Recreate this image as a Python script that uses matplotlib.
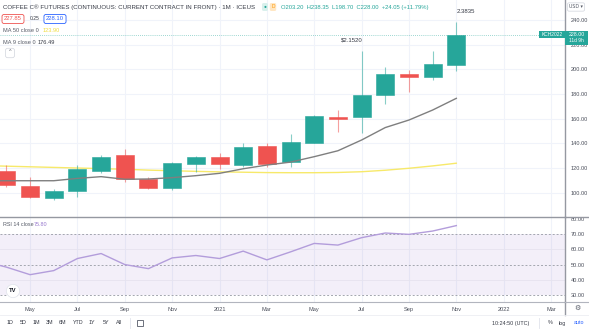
import matplotlib.pyplot as plt
from matplotlib.patches import Rectangle
from matplotlib.lines import Line2D

plt.rcParams['font.family'] = ['Liberation Sans', 'DejaVu Sans']

# monthly candles, Apr 2020 .. Nov 2021 (index 0 = Apr 2020)
opens = [117.6, 105.4, 95.5, 101.4, 117.8, 130.6, 110.9, 103.8, 123.3, 128.7,
         122.4, 137.8, 124.6, 140.5, 161.6, 161.1, 179.2, 196.0, 193.5, 203.2]
highs = [122.4, 113.0, 103.0, 122.4, 130.3, 135.7, 113.0, 125.1, 129.7, 131.9,
         140.5, 140.0, 147.6, 163.0, 167.0, 215.2, 201.6, 199.4, 214.5, 238.35]
lows = [104.4, 96.0, 94.0, 96.3, 115.7, 108.7, 103.0, 102.2, 117.0, 119.0,
        120.6, 120.6, 121.0, 140.0, 149.4, 148.1, 171.9, 181.8, 191.3, 198.7]
closes = [106.2, 96.3, 101.1, 119.0, 129.2, 110.9, 104.1, 123.8, 128.7, 123.0,
          137.3, 123.0, 141.3, 162.2, 159.5, 179.2, 196.0, 193.8, 204.0, 228.0]

# indicators, Mar 2020 .. Nov 2021 (index -1 .. 19)
ma9 = [109.7, 109.7, 109.7, 109.7, 111.6, 113.0, 110.9, 111.1, 112.2, 113.8, 115.7,
       119.4, 122.4, 124.8, 129.2, 134.0, 142.7, 152.8, 158.9, 167.0, 176.49]
ma50 = [122.0, 121.5, 121.0, 120.5, 120.0, 119.5, 119.0, 118.3, 117.8, 117.3, 116.9,
        116.6, 116.3, 116.2, 116.2, 116.4, 117.0, 118.2, 119.8, 121.7, 123.9]
rsi = [52.3, 48.3, 43.3, 46.0, 54.0, 57.3, 50.0, 47.3, 54.4, 56.0, 54.0,
       58.9, 53.1, 58.4, 64.0, 62.9, 67.8, 70.9, 70.0, 72.2, 75.8]

month_ticks = [1, 3, 5, 7, 9, 11, 13, 15, 17, 19, 21, 23]
month_labels = ['May', 'Jul', 'Sep', 'Nov', '2021', 'Mar', 'May', 'Jul', 'Sep', 'Nov', '2022', 'Mar']
price_ticks = [100, 120, 140, 160, 180, 200, 220, 240]
rsi_ticks = [30, 40, 50, 60, 70, 80]

UP = '#26a69a'
DOWN = '#ef5350'
GRID = '#f0f3fa'
AXC = '#9598a1'
TXT = '#4a4e5a'

W, H = 589, 331


def fx(px):
    return px / W


def fy(py):
    return 1 - py / H


fig = plt.figure(figsize=(W / 100, H / 100), dpi=100)
ax = fig.add_axes([0, fy(217), fx(565), 1 - fy(217)])
ax2 = fig.add_axes([0, fy(302), fx(565), fy(217) - fy(302)], sharex=ax)

n = len(opens)
xs = list(range(n))
xi = list(range(-1, n))

# grid
for a in (ax, ax2):
    for t in month_ticks:
        a.axvline(t, color=GRID, lw=0.8, zorder=0)
for p in price_ticks:
    ax.axhline(p, color=GRID, lw=0.8, zorder=0)

# candles
for i in xs:
    c = UP if closes[i] >= opens[i] else DOWN
    ax.vlines(i, lows[i], highs[i], color=c, lw=0.8, alpha=0.55, zorder=2)
    b = min(opens[i], closes[i])
    h = max(abs(closes[i] - opens[i]), 0.8)
    ax.bar(i, h, bottom=b, width=0.76, color=c, edgecolor=c, lw=0.4, zorder=3)

ax.plot(xi, ma50, color='#f7e96a', lw=1.0, zorder=1)
ax.plot(xi, ma9, color='#7f7f7f', lw=1.0, zorder=4)
ax.axhline(228, color=UP, lw=0.6, ls=(0, (1, 1.5)), alpha=0.6, zorder=1)

ax.annotate('$2.1520', (15, 215.2), xytext=(1, 6), textcoords='offset points',
            ha='right', va='bottom', fontsize=4.3, color='#363a45')
ax.annotate('2.3835', (19, 238.35), xytext=(0, 6), textcoords='offset points',
            ha='left', va='bottom', fontsize=4.3, color='#363a45')

ax.set_xlim(-0.27, 23.59)
ax.set_ylim(80.3, 256.2)
ax.yaxis.tick_right()
ax.set_yticks(price_ticks)
ax.set_yticklabels(['%.2f' % p for p in price_ticks])
ax.tick_params(axis='y', length=0, pad=4, labelsize=4.1, labelcolor=TXT)
ax.tick_params(axis='x', length=0, labelbottom=False)

# RSI pane
ax2.axhspan(30, 70, color='#7e57c2', alpha=0.09, lw=0, zorder=0)
for lv in (40, 60):
    ax2.axhline(lv, color='#e6e3ef', lw=0.6, zorder=0)
for lv in (30, 50, 70):
    ax2.axhline(lv, color='#a3a6af', lw=0.7, ls=(0, (2, 2)), zorder=1)
ax2.plot(xi, rsi, color='#b39ddb', lw=1.0, zorder=3)
ax2.set_ylim(25.2, 81.5)
ax2.yaxis.tick_right()
ax2.set_yticks(rsi_ticks)
ax2.set_yticklabels(['%.2f' % r for r in rsi_ticks])
ax2.tick_params(axis='y', length=0, pad=4, labelsize=4.1, labelcolor=TXT)
ax2.set_xticks(month_ticks)
ax2.set_xticklabels(month_labels)
ax2.tick_params(axis='x', length=0, pad=3.5, labelsize=4.1, labelcolor=TXT)

for a in (ax, ax2):
    for s in ('left', 'top', 'bottom'):
        a.spines[s].set_visible(False)
    a.spines['right'].set_color(AXC)
    a.spines['right'].set_linewidth(1.0)
ax2.spines['top'].set_visible(True)
ax2.spines['top'].set_color(AXC)
ax2.spines['top'].set_linewidth(1.0)
ax2.spines['bottom'].set_visible(True)
ax2.spines['bottom'].set_color('#b2b5be')
ax2.spines['bottom'].set_linewidth(0.8)

# frame lines outside axes
fig.add_artist(Line2D([fx(565), fx(565)], [fy(302), fy(315)], color=AXC, lw=1.0))
fig.add_artist(Line2D([fx(565), 1], [fy(302), fy(302)], color='#b2b5be', lw=0.8))
fig.add_artist(Line2D([fx(565), 1], [fy(217), fy(217)], color=AXC, lw=1.0))
fig.add_artist(Line2D([0, 1], [fy(315), fy(315)], color='#eceef2', lw=0.6))

# header legend
fig.text(fx(3), fy(7), 'COFFEE C® FUTURES (CONTINUOUS: CURRENT CONTRACT IN FRONT) · 1M · ICEUS',
         fontsize=4.4, color='#363a45', ha='left', va='center')
fig.text(fx(265), fy(7), '●', fontsize=3.5, color=UP, ha='center', va='center',
         bbox=dict(boxstyle='round,pad=0.3', fc='#d8f0ec', ec='none'))
fig.text(fx(273), fy(7), 'D', fontsize=3.5, color='#ff9800', ha='center', va='center',
         bbox=dict(boxstyle='round,pad=0.3', fc='#ffe6c2', ec='none'))
fig.text(fx(281), fy(7), 'O203.20  H238.35  L198.70  C228.00  +24.05 (+11.79%)',
         fontsize=4.2, color=UP, ha='left', va='center')

fig.text(fx(13), fy(19), '227.85', fontsize=4.2, color=DOWN, ha='center', va='center',
         bbox=dict(boxstyle='round,pad=0.35', fc='white', ec=DOWN, lw=0.6))
fig.text(fx(35), fy(19), '0.25', fontsize=3.6, color='#363a45', ha='center', va='center')
fig.text(fx(55), fy(19), '228.10', fontsize=4.2, color='#2962ff', ha='center', va='center',
         bbox=dict(boxstyle='round,pad=0.35', fc='white', ec='#2962ff', lw=0.6))

fig.text(fx(3), fy(31), 'MA 50 close 0', fontsize=4.1, color='#555a66', ha='left', va='center')
fig.text(fx(43), fy(31), '123.90', fontsize=4.1, color='#f0dd3c', ha='left', va='center')
fig.text(fx(3), fy(42), 'MA 9 close 0', fontsize=4.1, color='#555a66', ha='left', va='center')
fig.text(fx(38), fy(42), '176.49', fontsize=4.1, color='#363a45', ha='left', va='center')
fig.text(fx(10), fy(53), '⌃', fontsize=4, color='#555a66', ha='center', va='center',
         family=['DejaVu Sans'],
         bbox=dict(boxstyle='round,pad=0.4', fc='white', ec='#d1d4dc', lw=0.5))

# right scale labels
fig.text(fx(576), fy(7), 'USD ▾', fontsize=3.4, color='#555a66', ha='center', va='center',
         family=['DejaVu Sans'],
         bbox=dict(boxstyle='round,pad=0.35', fc='white', ec='#d1d4dc', lw=0.5))
fig.add_artist(Rectangle((fx(539), fy(38)), fx(565) - fx(539), fy(31) - fy(38),
                         transform=fig.transFigure, fc=UP, ec='none', zorder=5))
fig.text(fx(552), fy(34.5), 'KCH2022', fontsize=3.5, color='white', ha='center', va='center', zorder=6)
fig.add_artist(Rectangle((fx(565), fy(44.5)), fx(588) - fx(565), fy(31) - fy(44.5),
                         transform=fig.transFigure, fc=UP, ec='none', zorder=5))
fig.text(fx(576.5), fy(34.5), '228.00', fontsize=3.8, color='white', ha='center', va='center', zorder=6)
fig.text(fx(576.5), fy(41), '11d 9h', fontsize=3.5, color='white', ha='center', va='center', zorder=6)

# RSI legend + logo
fig.text(fx(3), fy(224), 'RSI 14 close', fontsize=3.9, color='#555a66', ha='left', va='center')
fig.text(fx(34), fy(224), '75.80', fontsize=3.9, color='#9575cd', ha='left', va='center')
fig.text(fx(13), fy(291), 'TV', fontsize=4.2, color='#131722', weight='bold', ha='center', va='center',
         bbox=dict(boxstyle='circle,pad=0.5', fc='white', ec='#e0e3eb', lw=0.5))

# bottom toolbar
for lbl, px in zip(['1D', '5D', '1M', '3M', '6M', 'YTD', '1Y', '5Y', 'All'],
                   [10, 23, 36.5, 50, 63, 78, 92, 106, 119]):
    fig.text(fx(px), fy(323), lbl, fontsize=3.9, color='#363a45', ha='center', va='center')
fig.add_artist(Line2D([fx(130), fx(130)], [fy(318), fy(328)], color='#e0e3eb', lw=0.6))
fig.add_artist(Rectangle((fx(137), fy(326)), fx(6), fy(320) - fy(326), transform=fig.transFigure,
                         fc='none', ec='#555a66', lw=0.6))
fig.text(fx(511), fy(323), '10:24:50 (UTC)', fontsize=3.9, color='#363a45', ha='center', va='center')
fig.add_artist(Line2D([fx(539), fx(539)], [fy(318), fy(328)], color='#e0e3eb', lw=0.6))
fig.text(fx(550), fy(323), '%', fontsize=3.9, color='#363a45', ha='center', va='center')
fig.text(fx(562), fy(323), 'log', fontsize=3.9, color='#363a45', ha='center', va='center')
fig.text(fx(579), fy(323), 'auto', fontsize=3.9, color='#2962ff', ha='center', va='center')
fig.text(fx(577), fy(308), '⚙', fontsize=5, color='#555a66', ha='center', va='center',
         family=['DejaVu Sans'])

fig.savefig('out.png', dpi=100, facecolor='white')
